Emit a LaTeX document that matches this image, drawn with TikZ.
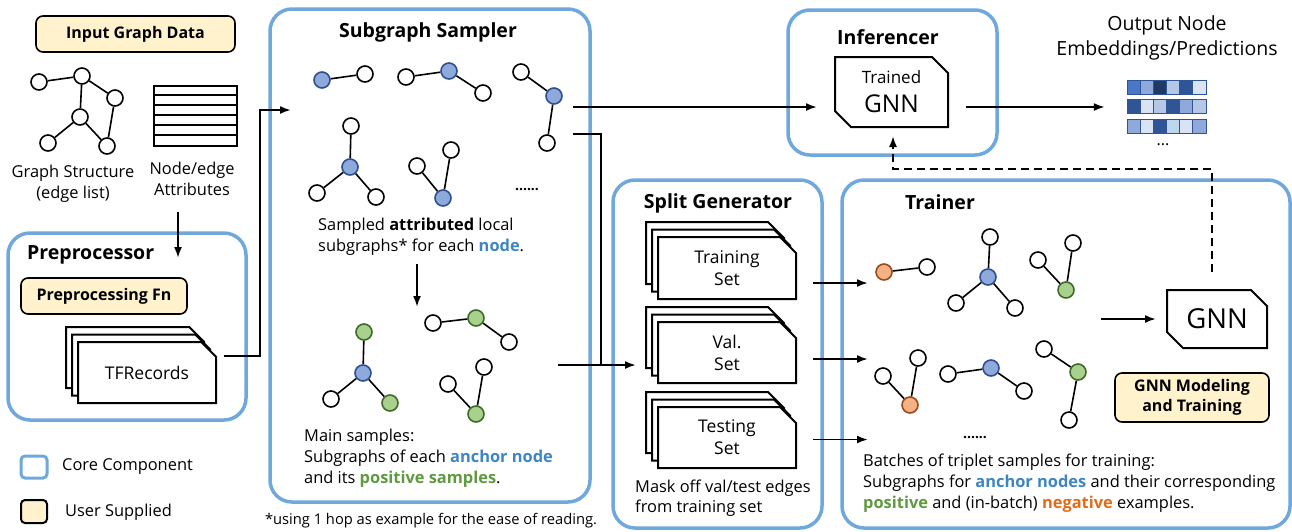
\documentclass[tikz,border=0pt]{standalone}
\usepackage{fontspec}
\setmainfont{Open Sans}
\usetikzlibrary{arrows.meta, positioning, shapes.misc, shadows}

\definecolor{coreblue}{HTML}{6FA8DC}
\definecolor{userfill}{HTML}{FFF2CC}
\definecolor{anchorfill}{HTML}{8EA9DB}
\definecolor{anchordraw}{HTML}{2F4F8F}
\definecolor{posfill}{HTML}{A9D18E}
\definecolor{posdraw}{HTML}{3F6B28}
\definecolor{negfill}{HTML}{F4B183}
\definecolor{negdraw}{HTML}{9C4A1A}
\definecolor{anchortext}{HTML}{3D85C6}
\definecolor{postext}{HTML}{5E9A3E}
\definecolor{negtext}{HTML}{E06C1A}
\definecolor{m1}{HTML}{4A78C8}
\definecolor{m2}{HTML}{8FA9DB}
\definecolor{m3}{HTML}{1F3864}
\definecolor{m4}{HTML}{B4C7E7}
\definecolor{m5}{HTML}{2F5597}
\definecolor{m6}{HTML}{DAE3F3}
\definecolor{m7}{HTML}{BDD7EE}

\begin{document}
\begin{tikzpicture}[
    x=1pt, y=-1pt,
    core/.style={draw=coreblue, line width=3.5pt, rounded corners=22pt},
    user/.style={draw, fill=userfill, line width=1.6pt, rounded corners=7pt,
        align=center, font=\fontsize{16}{20}\selectfont\bfseries},
    title/.style={font=\fontsize{19.5}{22}\selectfont\bfseries},
    body/.style={align=left, inner xsep=0pt, font=\fontsize{16.4}{21}\selectfont},
    card/.style={chamfered rectangle, chamfered rectangle corners=north east,
        chamfered rectangle xsep=8pt, chamfered rectangle ysep=8pt,
        draw, line width=2pt, fill=white, inner sep=0pt, align=center,
        font=\fontsize{17.5}{22}\selectfont},
    stack/.style={card, double copy shadow={shadow xshift=-6pt, shadow yshift=7.5pt,
        draw=black, fill=white, line width=2pt}},
    gnncard/.style={card, chamfered rectangle corners={north east, south west}},
    gnode/.style={circle, draw, line width=1.6pt, fill=white, minimum size=16pt, inner sep=0pt},
    ancnode/.style={gnode, fill=anchorfill, draw=anchordraw},
    posnode/.style={gnode, fill=posfill, draw=posdraw},
    negnode/.style={gnode, fill=negfill, draw=negdraw},
    link/.style={line width=1.6pt},
    arrow/.style={-{Latex[length=11pt,width=8pt]}, line width=1.9pt},
    dasharrow/.style={arrow, dash pattern=on 8pt off 5pt}
]
\useasboundingbox (0,0) rectangle (1292,531);

% === Input Graph Data ===
\node[user, minimum width=199pt, minimum height=36pt] (input) at (135.5,34) {Input Graph Data};
\node[gnode] (in1) at (39,82) {};
\node[gnode] (in2) at (82,76) {};
\node[gnode] (in3) at (115,98) {};
\node[gnode] (in4) at (80,117) {};
\node[gnode] (in5) at (48,143) {};
\node[gnode] (in6) at (107,146) {};
\draw[link] (in1) -- (in2) (in2) -- (in3) (in2) -- (in4) (in4) -- (in5) (in4) -- (in6) (in3) -- (in6);
\node[draw, line width=1.5pt, minimum width=83pt, minimum height=60pt] (attrs) at (195.5,116) {};
\foreach \k in {1,...,5}
    \draw[link] ([yshift=-10*\k pt]attrs.north west) -- ([yshift=-10*\k pt]attrs.north east);
\node[body, align=center] (structtext) at (73,184) {Graph Structure\\(edge list)};
\node[body, align=center] (attrtext) at (192,179) {Node/edge\\Attributes};

% === Preprocessor ===
\node[core, minimum width=238pt, minimum height=187pt] (prep) at (127,326.5) {};
\node[title, anchor=west, inner xsep=0pt] (preptitle) at (27,255) {Preprocessor};
\node[user, minimum width=166pt, minimum height=36pt] (prepfn) at (104,296) {Preprocessing Fn};
\node[stack, minimum width=138pt, minimum height=61pt] (tfrec) at (147,372.5) {TFRecords};

% === Subgraph Sampler ===
\node[core, minimum width=320pt, minimum height=493pt] (sampler) at (430,255.5) {};
\node[title] (samptitle) at (428,32) {Subgraph Sampler};
\node[ancnode] (sa1) at (322,80) {};
\node[gnode] (sa2) at (365,74) {};
\node[gnode] (sb1) at (406,77) {};
\node[ancnode] (sb2) at (449,71) {};
\node[gnode] (sb3) at (483,93) {};
\node[gnode] (sc1) at (521,72) {};
\node[ancnode] (sc2) at (554,96) {};
\node[gnode] (sc3) at (547,143) {};
\node[gnode] (sd1) at (351,126) {};
\node[ancnode] (sd2) at (350,167) {};
\node[gnode] (sd3) at (317,193) {};
\node[gnode] (sd4) at (376,197) {};
\node[gnode] (se1) at (417,166) {};
\node[gnode] (se2) at (451,150) {};
\node[ancnode] (se3) at (443,198) {};
\draw[link] (sa1) -- (sa2) (sb1) -- (sb2) -- (sb3) (sc1) -- (sc2) -- (sc3)
    (sd1) -- (sd2) (sd2) -- (sd3) (sd2) -- (sd4) (se1) -- (se3) -- (se2);
\node[font=\fontsize{14}{14}\selectfont\bfseries] (sdots) at (527,190) {......};
\node[body, anchor=west] (samptext) at (318,236.5)
    {Sampled \textbf{attributed} local\\subgraphs* for each \textcolor{anchortext}{\textbf{node}}.};

\node[posnode] (ma1) at (364,332) {};
\node[ancnode] (ma2) at (363,373) {};
\node[gnode] (ma3) at (331,399) {};
\node[posnode] (ma4) at (390,403) {};
\node[gnode] (mb1) at (433,323) {};
\node[posnode] (mb2) at (476,318) {};
\node[gnode] (mb3) at (509,342) {};
\node[gnode] (mc1) at (484,367) {};
\node[gnode] (mc2) at (448,384) {};
\node[posnode] (mc3) at (476,414) {};
\draw[link] (ma1) -- (ma2) (ma2) -- (ma3) (ma2) -- (ma4) (mb1) -- (mb2) -- (mb3) (mc2) -- (mc3) -- (mc1);
\node[body, anchor=west] (maintext) at (304,458)
    {Main samples:\\Subgraphs of each \textcolor{anchortext}{\textbf{anchor node}}\\and its \textcolor{postext}{\textbf{positive samples}}.};
\node[font=\fontsize{14.7}{15}\selectfont] (footnote) at (431,521) {*using 1 hop as example for the ease of reading.};

% === Split Generator ===
\node[core, minimum width=209pt, minimum height=348pt] (split) at (717.5,354) {};
\node[title] (splittitle) at (718,203) {Split Generator};
\node[stack, minimum width=138pt, minimum height=62pt] (trainset) at (727,268) {Training\\Set};
\node[stack, minimum width=138pt, minimum height=61pt] (valset) at (727,352.5) {Val.\\Set};
\node[stack, minimum width=138pt, minimum height=61pt] (testset) at (727,437.5) {Testing\\Set};
\node[body, anchor=west, font=\fontsize{16.4}{20}\selectfont] (masktext) at (635,498)
    {Mask off val/test edges\\from training set};

% === Inferencer ===
\node[core, minimum width=209pt, minimum height=145pt] (infer) at (892.5,82.5) {};
\node[title] (infertitle) at (888,37) {Inferencer};
\node[gnncard, minimum width=113pt, minimum height=70pt,
    font=\fontsize{24.5}{29}\selectfont] (infgnn) at (891.5,92) {{\fontsize{17}{17}\selectfont Trained}\\GNN};

% === Output ===
\node[align=center, font=\fontsize{19.5}{25}\selectfont] (outtext) at (1167,37.5) {Output Node\\Embeddings/Predictions};
\node[minimum width=79pt, minimum height=53pt, inner sep=0pt] (emb) at (1166.5,106.5) {};
\foreach \row/\cols in {0/{m1,m2,m3,m4,m5,m6}, 1/{m5,m6,m4,m5,m2,m4}, 2/{m2,m6,m5,m7,m6,m2}} {
    \foreach \c [count=\i from 0] in \cols
        \draw[draw=m5, line width=0.8pt, fill=\c] (1127+\i*13.17, 80+\row*19.75) rectangle ++(13.17,14);
}
\node[font=\fontsize{16}{16}\selectfont] (embdots) at (1163,145) {...};

% === Trainer ===
\node[core, minimum width=448pt, minimum height=348pt] (trainer) at (1066,354) {};
\node[title] (traintitle) at (940,202) {Trainer};
\node[negnode] (ta1) at (884,272) {};
\node[gnode] (ta2) at (927,267) {};
\node[gnode] (tb1) at (990,237) {};
\node[ancnode] (tb2) at (988,277) {};
\node[gnode] (tb3) at (956,303) {};
\node[gnode] (tb4) at (1015,308) {};
\node[gnode] (tc1) at (1038,260) {};
\node[gnode] (tc2) at (1073,243) {};
\node[posnode] (tc3) at (1066,290) {};
\node[gnode] (td1) at (883,376) {};
\node[gnode] (td2) at (918,358) {};
\node[negnode] (td3) at (910,405) {};
\node[gnode] (te1) at (948,374) {};
\node[ancnode] (te2) at (991,368) {};
\node[gnode] (te3) at (1024,391) {};
\node[gnode] (tf1) at (1044,349) {};
\node[posnode] (tf2) at (1078,372) {};
\node[gnode] (tf3) at (1069,420) {};
\draw[link] (ta1) -- (ta2) (tb1) -- (tb2) (tb2) -- (tb3) (tb2) -- (tb4) (tc1) -- (tc3) -- (tc2)
    (td1) -- (td3) -- (td2) (te1) -- (te2) -- (te3) (tf1) -- (tf2) -- (tf3);
\node[font=\fontsize{14}{14}\selectfont\bfseries] (tdots) at (975,438) {......};
\node[gnncard, minimum width=100pt, minimum height=58pt,
    font=\fontsize{27.5}{28}\selectfont] (tgnn) at (1217,319) {GNN};
\node[user, minimum width=154pt, minimum height=49pt] (gnnmodel) at (1192,397.5) {GNN Modeling\\and Training};
\node[body, anchor=west] (traintext) at (863,483.5)
    {Batches of triplet samples for training:\\Subgraphs for \textcolor{anchortext}{\textbf{anchor nodes}} and their corresponding\\\textcolor{postext}{\textbf{positive}} and (in-batch) \textcolor{negtext}{\textbf{negative}} examples.};

% === Legend ===
\node[draw=coreblue, line width=3pt, rounded corners=4pt, minimum width=26pt, minimum height=22pt] (legcore) at (34,467) {};
\node[body, anchor=west] (legcoretext) at (62,467) {Core Component};
\node[draw, fill=userfill, line width=2pt, rounded corners=4pt, minimum width=26pt, minimum height=23pt] (leguser) at (34,511.5) {};
\node[body, anchor=west] (legusertext) at (65,512) {User Supplied};

% ============ ARROWS ============
\coordinate (attrout) at (178,212);
\coordinate (prepin) at (178,258);
\coordinate (sampin) at (291,110);
\coordinate (sampout) at (573,107);
\coordinate (sampout2) at (573,134);
\coordinate (mainout) at (558,365);
\coordinate (merge) at (601,365);
\coordinate (splitin) at (636,365);
\coordinate (dashturn) at (893,169);

\draw[arrow] (attrout) -- (prepin);
\draw[arrow] ([xshift=7pt,yshift=16.5pt]tfrec.east) -- ++(36,0) |- (sampin);
\draw[arrow] (417,264) -- (417,307);

% Sampler to inferencer and split generator
\draw[arrow, shorten >=17pt] (sampout) -- (infgnn.west |- sampout);
\draw[line width=1.9pt] (sampout2) -| (merge);
\draw[arrow] (mainout) -- (merge) -- (splitin);

% Split generator to trainer
\draw[arrow, shorten <=16pt] ([yshift=-15pt]trainset.east) -- ++(71,0);
\draw[arrow, shorten <=16pt] ([yshift=-6.5pt]valset.east) -- ++(71,0);
\draw[arrow, shorten <=16pt] ([yshift=-2pt]testset.east) -- ++(71,0);

% Trainer and outputs
\draw[arrow] ([xshift=-65pt]tgnn.west) -- ([xshift=-10pt]tgnn.west);
\draw[arrow, shorten <=17pt, shorten >=22pt] (infgnn.east |- sampout) -- (emb.west |- sampout);
\draw[dasharrow] ([xshift=-5pt,yshift=17pt]tgnn.north) |- (dashturn) -- ([xshift=1.5pt,yshift=-8pt]infgnn.south);

\end{tikzpicture}
\end{document}
